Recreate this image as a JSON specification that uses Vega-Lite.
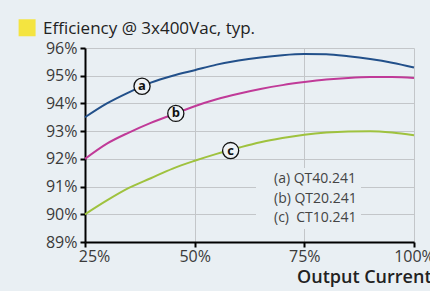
{
  "$schema": "https://vega.github.io/schema/vega-lite/v6.json",
  "width": 329,
  "height": 194,
  "autosize": "none",
  "padding": {"left": 85, "top": 48, "right": 16, "bottom": 49},
  "background": "#e9eff3",
  "config": {"font": "Open Sans", "view": {"stroke": null}},
  "title": {
    "text": "Efficiency @ 3x400Vac, typ.",
    "anchor": "start",
    "frame": "group",
    "dx": -42,
    "dy": 46,
    "fontSize": 17,
    "fontWeight": "normal",
    "color": "#222222",
    "baseline": "alphabetic",
    "offset": 14
  },
  "datasets": {
    "curves": [
      {"s": "(a) QT40.241", "x": 25, "y": 93.5},
      {"s": "(a) QT40.241", "x": 30, "y": 94.0},
      {"s": "(a) QT40.241", "x": 35, "y": 94.4},
      {"s": "(a) QT40.241", "x": 40, "y": 94.75},
      {"s": "(a) QT40.241", "x": 45, "y": 95.0},
      {"s": "(a) QT40.241", "x": 50, "y": 95.2},
      {"s": "(a) QT40.241", "x": 55, "y": 95.4},
      {"s": "(a) QT40.241", "x": 60, "y": 95.55},
      {"s": "(a) QT40.241", "x": 65, "y": 95.66},
      {"s": "(a) QT40.241", "x": 70, "y": 95.74},
      {"s": "(a) QT40.241", "x": 75, "y": 95.78},
      {"s": "(a) QT40.241", "x": 80, "y": 95.77},
      {"s": "(a) QT40.241", "x": 85, "y": 95.7},
      {"s": "(a) QT40.241", "x": 90, "y": 95.6},
      {"s": "(a) QT40.241", "x": 95, "y": 95.47},
      {"s": "(a) QT40.241", "x": 100, "y": 95.3},
      {"s": "(b) QT20.241", "x": 25, "y": 92.0},
      {"s": "(b) QT20.241", "x": 30, "y": 92.55},
      {"s": "(b) QT20.241", "x": 35, "y": 92.95},
      {"s": "(b) QT20.241", "x": 40, "y": 93.3},
      {"s": "(b) QT20.241", "x": 45, "y": 93.6},
      {"s": "(b) QT20.241", "x": 50, "y": 93.9},
      {"s": "(b) QT20.241", "x": 55, "y": 94.15},
      {"s": "(b) QT20.241", "x": 60, "y": 94.35},
      {"s": "(b) QT20.241", "x": 65, "y": 94.52},
      {"s": "(b) QT20.241", "x": 70, "y": 94.66},
      {"s": "(b) QT20.241", "x": 75, "y": 94.77},
      {"s": "(b) QT20.241", "x": 80, "y": 94.86},
      {"s": "(b) QT20.241", "x": 85, "y": 94.92},
      {"s": "(b) QT20.241", "x": 90, "y": 94.95},
      {"s": "(b) QT20.241", "x": 95, "y": 94.95},
      {"s": "(b) QT20.241", "x": 100, "y": 94.92},
      {"s": "(c)\u00a0 CT10.241", "x": 25, "y": 90.0},
      {"s": "(c)\u00a0 CT10.241", "x": 30, "y": 90.5},
      {"s": "(c)\u00a0 CT10.241", "x": 35, "y": 90.95},
      {"s": "(c)\u00a0 CT10.241", "x": 40, "y": 91.3},
      {"s": "(c)\u00a0 CT10.241", "x": 45, "y": 91.65},
      {"s": "(c)\u00a0 CT10.241", "x": 50, "y": 91.93},
      {"s": "(c)\u00a0 CT10.241", "x": 55, "y": 92.18},
      {"s": "(c)\u00a0 CT10.241", "x": 60, "y": 92.4},
      {"s": "(c)\u00a0 CT10.241", "x": 65, "y": 92.6},
      {"s": "(c)\u00a0 CT10.241", "x": 70, "y": 92.75},
      {"s": "(c)\u00a0 CT10.241", "x": 75, "y": 92.87},
      {"s": "(c)\u00a0 CT10.241", "x": 80, "y": 92.95},
      {"s": "(c)\u00a0 CT10.241", "x": 85, "y": 92.99},
      {"s": "(c)\u00a0 CT10.241", "x": 90, "y": 93.0},
      {"s": "(c)\u00a0 CT10.241", "x": 95, "y": 92.95},
      {"s": "(c)\u00a0 CT10.241", "x": 100, "y": 92.85}
    ],
    "marks": [
      {"k": "a", "x": 38, "y": 94.62},
      {"k": "b", "x": 45.7, "y": 93.64},
      {"k": "c", "x": 58.2, "y": 92.3}
    ]
  },
  "layer": [
    {
      "encoding": {
        "x": {
          "field": "x", "type": "quantitative",
          "scale": {"domain": [25, 100], "nice": false, "zero": false},
          "axis": {
            "values": [25, 50, 75, 100],
            "grid": true, "gridColor": "#c3c6c9", "gridWidth": 1,
            "domainColor": "#000000", "domainWidth": 2,
            "tickColor": "#000000", "tickWidth": 2, "tickSize": 5,
            "labelExpr": "datum.value + '%'",
            "labelFlush": false,
            "labelFontSize": 16, "labelColor": "#3a3a3a", "labelPadding": 1,
            "labelOffset": {"expr": "datum.value == 25 ? 9 : 0"},
            "title": "Output Current",
            "titleFontSize": 18, "titleFontWeight": 600, "titleColor": "#222222",
            "titleAlign": "right", "titleAnchor": "end", "titleBaseline": "alphabetic",
            "titleX": 346, "titleY": 40
          }
        },
        "y": {
          "field": "y", "type": "quantitative",
          "scale": {"domain": [89, 96], "nice": false, "zero": false},
          "axis": {
            "values": [89, 90, 91, 92, 93, 94, 95, 96],
            "grid": true, "gridColor": "#c3c6c9", "gridWidth": 1,
            "domainColor": "#000000", "domainWidth": 2,
            "tickColor": "#000000", "tickWidth": 2, "tickSize": 5,
            "labelExpr": "datum.value + '%'",
            "labelFontSize": 16, "labelColor": "#3a3a3a", "labelPadding": 3,
            "title": null
          }
        }
      },
      "layer": [
        {
          "data": {"name": "curves"},
          "mark": {"type": "line", "interpolate": "monotone", "strokeWidth": 2},
          "encoding": {
            "color": {
              "field": "s", "type": "nominal",
              "scale": {"range": ["#22508a", "#c03a98", "#9fc23e"]},
              "legend": {
                "orient": "none", "legendX": 171, "legendY": 120,
                "title": null, "symbolOpacity": 0, "symbolSize": 0, "symbolStrokeWidth": 0,
                "labelFontSize": 14, "labelColor": "#444444", "labelOffset": 0,
                "fillColor": "#e9eff3", "padding": 4, "rowPadding": 5.5, "labelLimit": 300
              }
            }
          }
        },
        {
          "data": {"name": "marks"},
          "mark": {"type": "point", "shape": "circle", "size": 260, "filled": true, "fill": "#eef2f5", "stroke": "#111111", "strokeWidth": 1.3, "opacity": 1}
        },
        {
          "data": {"name": "marks"},
          "mark": {"type": "text", "fontWeight": "bold", "fontSize": 13, "align": "center", "baseline": "middle", "color": "#111111"},
          "encoding": {"text": {"field": "k"}}
        }
      ]
    },
    {
      "data": {"values": [{"k": "title"}]},
      "mark": {"type": "square", "size": 289, "filled": true, "color": "#f4e440", "opacity": 1, "clip": false},
      "encoding": {
        "x": {
          "datum": 11.8, "type": "quantitative",
          "axis": {
            "values": [25, 50, 75, 100],
            "grid": true, "gridColor": "#c3c6c9", "gridWidth": 1,
            "domainColor": "#000000", "domainWidth": 2,
            "tickColor": "#000000", "tickWidth": 2, "tickSize": 5,
            "labelExpr": "datum.value + '%'",
            "labelFlush": false,
            "labelFontSize": 16, "labelColor": "#3a3a3a", "labelPadding": 1,
            "labelOffset": {"expr": "datum.value == 25 ? 9 : 0"},
            "title": "Output Current",
            "titleFontSize": 18, "titleFontWeight": 600, "titleColor": "#222222",
            "titleAlign": "right", "titleAnchor": "end", "titleBaseline": "alphabetic",
            "titleX": 346, "titleY": 40
          }
        },
        "y": {
          "datum": 96.73, "type": "quantitative",
          "axis": {
            "values": [89, 90, 91, 92, 93, 94, 95, 96],
            "grid": true, "gridColor": "#c3c6c9", "gridWidth": 1,
            "domainColor": "#000000", "domainWidth": 2,
            "tickColor": "#000000", "tickWidth": 2, "tickSize": 5,
            "labelExpr": "datum.value + '%'",
            "labelFontSize": 16, "labelColor": "#3a3a3a", "labelPadding": 3,
            "title": null
          }
        }
      }
    }
  ]
}
